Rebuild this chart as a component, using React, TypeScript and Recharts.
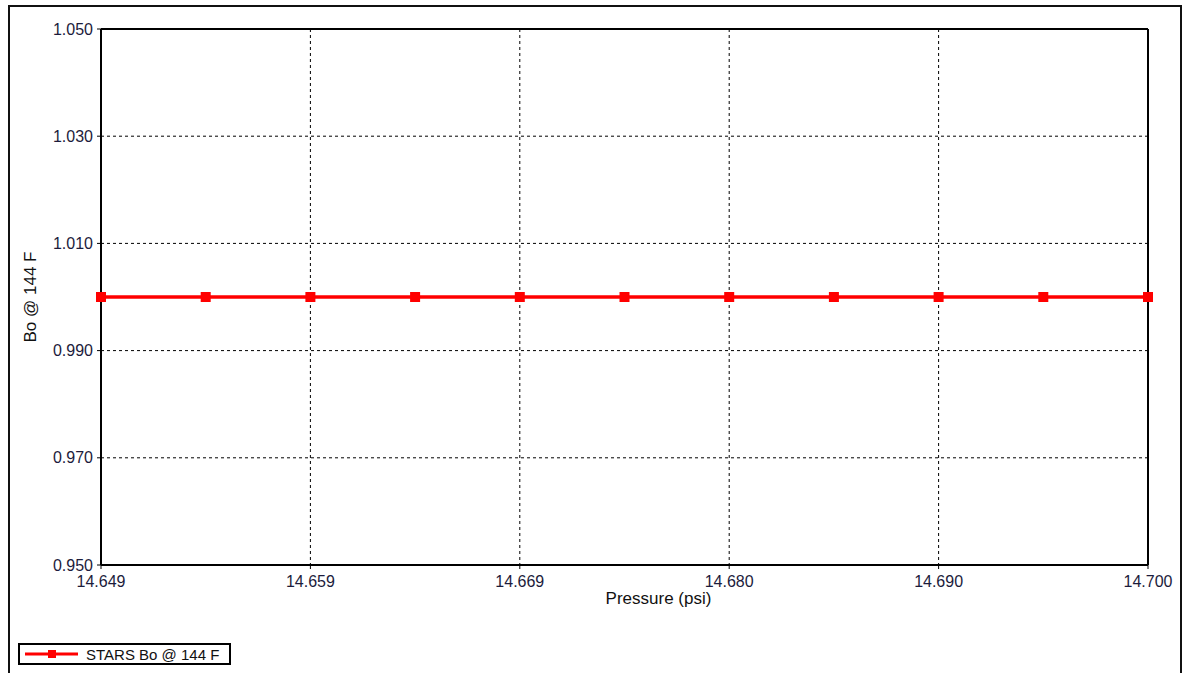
import React from "react";
import {
  LineChart,
  Line,
  XAxis,
  YAxis,
  CartesianGrid,
  ReferenceLine,
  Label,
} from "recharts";

// Oil formation volume factor at 144 F across the pressure range
const pressure = [
  14.6495, 14.65455, 14.6596, 14.66465, 14.6697, 14.67475, 14.6798, 14.68485,
  14.6899, 14.69495, 14.7,
];
const boValues = [1.0, 1.0, 1.0, 1.0, 1.0, 1.0, 1.0, 1.0, 1.0, 1.0, 1.0];

const xTicks = [14.6495, 14.6596, 14.6697, 14.6798, 14.6899, 14.7];
const xTickLabels = ["14.649", "14.659", "14.669", "14.680", "14.690", "14.700"];
const yTicks = [0.95, 0.97, 0.99, 1.01, 1.03, 1.05];

const seriesName = "STARS Bo @ 144 F";
const FONT = "'Liberation Sans', Arial, sans-serif";
const RED = "#ff0000";
const TICK_COLOR = "#1c1c3c";

const data = pressure.map((p, i) => ({ pressure: p, bo: boValues[i] }));

// eslint-disable-next-line @typescript-eslint/no-explicit-any
const SquareDot = (props: any) => {
  const { cx, cy, index } = props;
  if (cx == null || cy == null) return null;
  return <rect key={`dot-${index}`} x={cx - 5} y={cy - 5} width={10} height={10} fill={RED} />;
};

// legend sits outside the plot, in the lower-left corner of the frame
const LegendBox = () => (
  <div
    style={{
      position: "absolute",
      left: 18,
      top: 643,
      display: "flex",
      alignItems: "center",
      border: "2px solid #000",
      width: 209,
      height: 18,
      background: "#fff",
      fontFamily: FONT,
      fontSize: 15,
      color: "#111",
    }}
  >
    <svg width={66} height={18} style={{ display: "block" }}>
      <line x1={5} y1={9} x2={58} y2={9} stroke={RED} strokeWidth={3} />
      <rect x={28} y={5} width={8} height={8} fill={RED} />
    </svg>
    <span style={{ whiteSpace: "nowrap" }}>{seriesName}</span>
  </div>
);

// eslint-disable-next-line @typescript-eslint/no-explicit-any
const YTitle = ({ viewBox }: any) => {
  const x = viewBox.x + 9;
  const y = viewBox.y + viewBox.height / 2;
  return (
    <text
      x={x}
      y={y}
      transform={`rotate(-90, ${x}, ${y})`}
      textAnchor="middle"
      dominantBaseline="central"
      fontFamily={FONT}
      fontSize={17}
      fill="#111"
    >
      Bo @ 144 F
    </text>
  );
};

// eslint-disable-next-line @typescript-eslint/no-explicit-any
const XTitle = ({ viewBox }: any) => {
  const x = viewBox.x + viewBox.width / 2 + 34;
  const y = viewBox.y + 33;
  return (
    <text
      x={x}
      y={y}
      textAnchor="middle"
      dominantBaseline="central"
      fontFamily={FONT}
      fontSize={17}
      fill="#111"
    >
      Pressure (psi)
    </text>
  );
};

export default function App() {
  const tickStyle = { fill: TICK_COLOR, fontSize: 16, fontFamily: FONT };

  return (
    <div
      style={{
        position: "absolute",
        left: 0,
        top: 0,
        width: 1184,
        height: 673,
        overflow: "hidden",
        background: "#fff",
      }}
    >
      <div
        style={{
          position: "absolute",
          left: 8,
          top: 5,
          width: 1170,
          height: 720,
          border: "2px solid #111",
        }}
      />
      <div style={{ position: "absolute", left: 0, top: 0 }}>
        <LineChart
          width={1184}
          height={673}
          data={data}
          margin={{ top: 29, right: 36, left: 21, bottom: 78 }}
        >
          <CartesianGrid
            stroke="#000"
            strokeDasharray="3 3"
            strokeWidth={1}
            horizontalValues={yTicks}
            verticalValues={xTicks}
          />
          <XAxis
            type="number"
            dataKey="pressure"
            domain={[14.6495, 14.7]}
            ticks={xTicks}
            tickFormatter={(_v: number, i: number) => xTickLabels[i]}
            tick={tickStyle}
            tickSize={4}
            tickMargin={7}
            tickLine={{ stroke: "#000" }}
            axisLine={{ stroke: "#000", strokeWidth: 2 }}
            height={30}
          >
            <Label content={<XTitle />} />
          </XAxis>
          <YAxis
            type="number"
            domain={[0.95, 1.05]}
            ticks={yTicks}
            tickFormatter={(v: number) => v.toFixed(3)}
            tick={tickStyle}
            tickSize={4}
            tickMargin={4}
            tickLine={{ stroke: "#000" }}
            axisLine={{ stroke: "#000", strokeWidth: 2 }}
            width={80}
          >
            <Label content={<YTitle />} />
          </YAxis>
          <ReferenceLine y={1.05} stroke="#000" strokeWidth={2} />
          <ReferenceLine x={14.7} stroke="#000" strokeWidth={2} />
          <Line
            type="linear"
            dataKey="bo"
            name={seriesName}
            stroke={RED}
            strokeWidth={3.5}
            dot={<SquareDot />}
            activeDot={false}
            isAnimationActive={false}
          />
        </LineChart>
      </div>
      <LegendBox />
    </div>
  );
}
